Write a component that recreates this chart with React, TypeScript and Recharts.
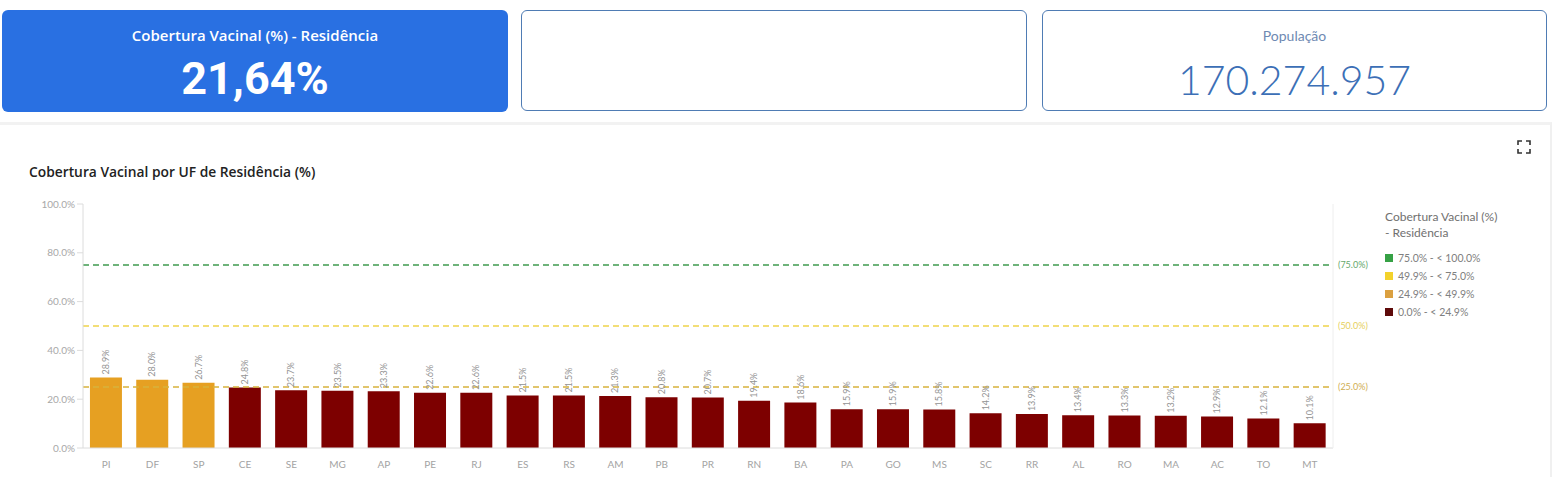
import React from 'react';
import { BarChart, Bar, XAxis, YAxis, Cell, LabelList, ReferenceLine } from 'recharts';

const states = ['PI', 'DF', 'SP', 'CE', 'SE', 'MG', 'AP', 'PE', 'RJ', 'ES', 'RS', 'AM', 'PB', 'PR', 'RN', 'BA', 'PA', 'GO', 'MS', 'SC', 'RR', 'AL', 'RO', 'MA', 'AC', 'TO', 'MT'];
const coverage = [28.9, 28.0, 26.7, 24.8, 23.7, 23.5, 23.3, 22.6, 22.6, 21.5, 21.5, 21.3, 20.8, 20.7, 19.4, 18.6, 15.9, 15.9, 15.8, 14.2, 13.9, 13.4, 13.3, 13.2, 12.9, 12.1, 10.1];
const yTicks = [0, 20, 40, 60, 80, 100];
const targets = [75, 50, 25];
const targetColors = ['#3f9a4f', '#f0d44a', '#d8b23c'];
const targetLabelColors = ['#64a86c', '#e6cf5c', '#cfae52'];
const legendLabels = ['75.0% - < 100.0%', '49.9% - < 75.0%', '24.9% - < 49.9%', '0.0% - < 24.9%'];
const legendColors = ['#36a145', '#f3d22b', '#dba040', '#5e0a0a'];

const FONT = 'Lato, "Open Sans", sans-serif';

const chartData = states.map((uf, i) => ({ uf, value: coverage[i] }));

const barColor = (v: number) => (v >= 24.9 ? '#e6a022' : '#7d0000');
const pct = (v: number) => `${v.toFixed(1)}%`;

function BarValueLabel(props: any) {
  const { x, y, width, value } = props;
  const cx = Number(x) + Number(width) / 2;
  const ty = Number(y) - 3;
  return (
    <text
      x={cx}
      y={ty}
      dy="0.35em"
      transform={`rotate(-90 ${cx} ${ty})`}
      textAnchor="start"
      fontSize={9}
      fill="#939393"
      fontFamily={FONT}
    >
      {pct(Number(value))}
    </text>
  );
}

function ExpandIcon() {
  return (
    <svg width={14} height={14} style={{ position: 'absolute', left: 1517, top: 140 }}>
      <path d="M1 5 V1 H5 M9 1 H13 V5 M13 9 V13 H9 M5 13 H1 V9" stroke="#333" strokeWidth={1.6} fill="none" />
    </svg>
  );
}

export default function App() {
  return (
    <div style={{ position: 'absolute', left: 0, top: 0, width: 1554, height: 477, background: '#fff', fontFamily: FONT, overflow: 'hidden' }}>
      {/* KPI cards */}
      <div style={{ position: 'absolute', left: 2, top: 10, width: 506, height: 102, background: '#2970e2', borderRadius: 6, color: '#fff', textAlign: 'center' }}>
        <div style={{ position: 'absolute', top: 15, width: '100%', fontFamily: '"Open Sans", sans-serif', fontSize: 15, fontWeight: 600 }}>
          Cobertura Vacinal (%) - Residência
        </div>
        <div style={{ position: 'absolute', top: 43, width: '100%', fontFamily: 'Roboto, sans-serif', fontSize: 45, fontWeight: 700, lineHeight: '52px' }}>
          21,64%
        </div>
      </div>
      <div style={{ position: 'absolute', left: 521, top: 10, width: 504, height: 99, border: '1.5px solid #4f7cb4', borderRadius: 6 }} />
      <div style={{ position: 'absolute', left: 1042, top: 10, width: 503, height: 99, border: '1.5px solid #4f7cb4', borderRadius: 6, textAlign: 'center' }}>
        <div style={{ position: 'absolute', top: 16, width: '100%', fontSize: 14, color: '#6e89b2' }}>População</div>
        <div style={{ position: 'absolute', top: 44, width: '100%', fontSize: 41, fontWeight: 300, color: '#3c6fb6', lineHeight: '50px' }}>
          170.274.957
        </div>
      </div>

      {/* chart panel */}
      <div style={{ position: 'absolute', left: 0, top: 122, width: 1550, height: 360, background: '#fff', borderTop: '3px solid #f2f2f2', borderRight: '2px solid #f0f0f0' }} />
      <div style={{ position: 'absolute', left: 29, top: 162, fontFamily: '"Open Sans", sans-serif', fontSize: 13.8, fontWeight: 600, color: '#222' }}>
        Cobertura Vacinal por UF de Residência (%)
      </div>
      <ExpandIcon />

      <div style={{ position: 'absolute', left: 0, top: 190 }}>
        <BarChart width={1380} height={287} data={chartData} margin={{ top: 14, right: 0, bottom: 0, left: 0 }} barCategoryGap="15%">
          <XAxis
            dataKey="uf"
            height={29}
            tickLine={false}
            tickMargin={7}
            axisLine={{ stroke: '#dcdcdc' }}
            tick={{ fontSize: 10, fill: '#a3a3a3', fontFamily: FONT }}
            interval={0}
          />
          <YAxis
            width={83}
            domain={[0, 100]}
            ticks={yTicks}
            tickFormatter={pct}
            axisLine={{ stroke: '#dcdcdc' }}
            tickLine={{ stroke: '#dcdcdc' }}
            tick={{ fontSize: 10, fill: '#a8a8a8', fontFamily: FONT }}
          />
          <YAxis yAxisId="right" orientation="right" width={47} tick={false} tickLine={false} axisLine={{ stroke: '#eeeeee' }} />
          {targets.map((t, i) => (
            <ReferenceLine
              key={t}
              y={t}
              stroke={targetColors[i]}
              strokeWidth={1.5}
              strokeDasharray="6 4"
              label={{ value: `(${t.toFixed(1)}%)`, position: 'right', fill: targetLabelColors[i], fontSize: 9, fontFamily: FONT }}
            />
          ))}
          <Bar dataKey="value" isAnimationActive={false}>
            {chartData.map((d) => (
              <Cell key={d.uf} fill={barColor(d.value)} />
            ))}
            <LabelList dataKey="value" content={BarValueLabel} />
          </Bar>
        </BarChart>
      </div>

      {/* legend */}
      <div style={{ position: 'absolute', left: 1385, top: 209, fontSize: 12, color: '#707070', lineHeight: '16px' }}>
        <div>Cobertura Vacinal (%)</div>
        <div>- Residência</div>
        <div style={{ marginTop: 8 }}>
          {legendLabels.map((l, i) => (
            <div key={l} style={{ display: 'flex', alignItems: 'center', height: 18, fontSize: 10.5, color: '#808080' }}>
              <span style={{ width: 8, height: 8, background: legendColors[i], marginRight: 5, display: 'inline-block' }} />
              {l}
            </div>
          ))}
        </div>
      </div>
    </div>
  );
}
